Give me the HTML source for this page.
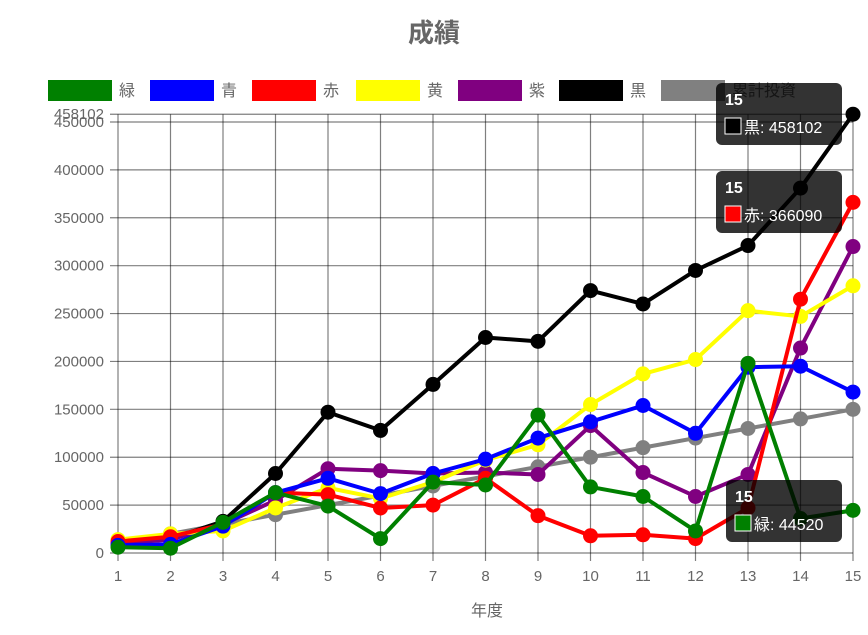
<!DOCTYPE html>
<html><head><meta charset="utf-8"><style>
body{margin:0;background:#fff;width:868px;height:630px;overflow:hidden}
svg text{font-family:"Liberation Sans","Noto Sans CJK JP",sans-serif}
</style></head><body>
<svg id="c" width="868" height="630" xmlns="http://www.w3.org/2000/svg">
<text x="434" y="42" text-anchor="middle" font-size="26" font-weight="bold" fill="#666">成績</text>
<g id="grid"></g>
<g id="legend"></g>
<g id="series"></g>
<g id="tips"></g>
<text x="487" y="616" text-anchor="middle" font-size="16" fill="#666">年度</text>
</svg>
<script>
const categories=[1,2,3,4,5,6,7,8,9,10,11,12,13,14,15];
const names=["緑","青","赤","黄","紫","黒","累計投資"];
const colors=["green","blue","red","yellow","purple","black","gray"];
const green=[6000,5000,32000,63000,49000,15000,74000,71000,144000,69000,59000,23000,198000,36000,44520];
const blue=[8000,9000,28000,63000,78000,62000,83000,98000,120000,137000,154000,125000,194000,195000,168000];
const red=[12000,17000,30000,63000,61000,47000,50000,78000,39000,18000,19000,15000,47000,265000,366090];
const yellow=[14000,20000,23000,47000,68000,57000,74000,97000,113000,155000,187000,202000,253000,247000,279000];
const purple=[10000,14000,30000,55000,88000,86000,83000,84000,82000,133000,84000,59000,82000,214000,320000];
const black=[10000,15000,33000,83000,147000,128000,176000,225000,221000,274000,260000,295000,321000,381000,458102];
const gray=[10000,20000,30000,40000,50000,60000,70000,80000,90000,100000,110000,120000,130000,140000,150000];
const yTicks=[0,50000,100000,150000,200000,250000,300000,350000,400000,450000];
const tips=[{title:"15",label:"黒: 458102",color:"black"},{title:"15",label:"赤: 366090",color:"red"},{title:"15",label:"緑: 44520",color:"green"}];
const series=[green,blue,red,yellow,purple,black,gray];
const NS="http://www.w3.org/2000/svg";
const yMax=Math.max(...black);
const X0=118,X1=853,Y0=553,YT=553-yMax*431/450000;
function xs(i){return X0+(X1-X0)*i/(categories.length-1);}
function ys(v){return Y0-(Y0-YT)*v/yMax;}
function mk(t,a,p){const e=document.createElementNS(NS,t);for(const k in a)e.setAttribute(k,a[k]);p.appendChild(e);return e;}
const grid=document.getElementById('grid');
categories.forEach((c,i)=>{
 const l=mk('line',{x1:xs(i),x2:xs(i),y1:YT,y2:Y0+8,stroke:'rgba(0,0,0,0.5)','stroke-width':1.2},grid);
 
 
 const t=mk('text',{x:xs(i),y:Y0+28,'text-anchor':'middle','font-size':15,fill:'#666'},grid);
 t.textContent=c;
 
 
});
yTicks.concat([yMax]).forEach(v=>{
 const l=mk('line',{x1:X0-8,x2:X1,y1:ys(v),y2:ys(v),stroke:'rgba(0,0,0,0.5)','stroke-width':1.2},grid);
 
 
 const t=mk('text',{x:104,y:ys(v)+5,'text-anchor':'end','font-size':15,fill:'#666'},grid);
 t.textContent=v;
 
 
});
const leg=document.getElementById('legend');
const lx=[48,150,252,356,458,559,661];
names.forEach((n,i)=>{
 const r=mk('rect',{x:lx[i],y:80,width:64,height:21,fill:colors[i]},leg);
 
 
 const t=mk('text',{x:lx[i]+71,y:96,'font-size':16,fill:'#666'},leg);
 t.textContent=n;
 
 
});
const sg=document.getElementById('series');
for(let s=series.length-1;s>=0;s--){
 const d=series[s].map((v,i)=>(i?'L':'M')+xs(i)+','+ys(v)).join(' ');
 const p=mk('path',{d:d,fill:'none',stroke:colors[s],'stroke-width':4,'stroke-linejoin':'round'},sg);
 
 
 series[s].forEach((v,i)=>{
  const c=mk('circle',{cx:xs(i),cy:ys(v),r:7.5,fill:colors[s]},sg);
  
  
 });
}
const tg=document.getElementById('tips');
const tpos=[[716,83],[716,171],[726,480]];
tips.forEach((tp,i)=>{
 const [x,y]=tpos[i];
 const g=mk('g',{},tg);
 
 
 mk('rect',{x:x,y:y,width:x===726?116:126,height:62,rx:6,fill:'rgba(0,0,0,0.8)'},g);
 const t1=mk('text',{x:x+9,y:y+22,'font-size':16,'font-weight':'bold',fill:'#fff'},g);t1.textContent=tp.title;
 mk('rect',{x:x+9,y:y+35,width:16,height:16,fill:tp.color,stroke:'#fff','stroke-width':1},g);
 const t2=mk('text',{x:x+28,y:y+50,'font-size':16,fill:'#fff'},g);t2.textContent=tp.label;
});
</script>
</body></html>
